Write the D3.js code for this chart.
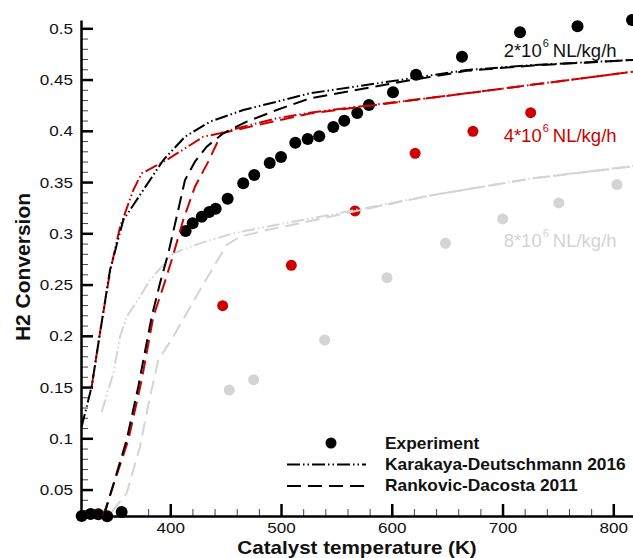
<!DOCTYPE html>
<html>
<head>
<meta charset="utf-8">
<script src="https://cdn.jsdelivr.net/npm/d3@7"></script>
<style>
  body { margin: 0; background: #fff; }
  svg { font-family: "Liberation Sans", Arial, sans-serif; }
</style>
</head>
<body>
<script>
// Experiment data [T (K), H2 conversion]
const exp2e6 = [[320, 0.0242], [328.1, 0.0262], [335, 0.026], [343.1, 0.024], [356.1, 0.028],
  [413.9, 0.3022], [420.2, 0.3098], [428.4, 0.3162], [435.2, 0.3208], [441, 0.324],
  [451.8, 0.3338], [465.9, 0.3488], [475.8, 0.3569], [489.8, 0.3686], [500, 0.3744],
  [512.9, 0.3884], [524.1, 0.392], [534.5, 0.3946], [547.2, 0.4037], [557.1, 0.4099],
  [568.8, 0.4174], [579.4, 0.4252], [601.1, 0.4376], [621.9, 0.4547], [663.4, 0.4723],
  [715.8, 0.4961], [767.7, 0.502], [816.9, 0.508]];
const exp4e6 = [[447.3, 0.2294], [509.3, 0.2688], [566.8, 0.3218], [621.1, 0.378],
  [673.3, 0.3995], [725.4, 0.4177]];
const exp8e6 = [[453.3, 0.1471], [475.3, 0.1572], [539.4, 0.1959], [595.7, 0.2567],
  [648.5, 0.2902], [700.1, 0.314], [750.8, 0.3296], [803.3, 0.3476]];

// Karakaya-Deutschmann 2016 model
const kd2e6 = [[320, 0.1113], [329, 0.1503], [336.5, 0.2024], [345.6, 0.2642], [357.6, 0.313],
  [393.7, 0.3715], [413.3, 0.3942], [435.8, 0.4089], [465.9, 0.4203], [496.1, 0.4284],
  [526.1, 0.4366], [607.4, 0.4496], [667.6, 0.4593], [727.5, 0.4642], [817.8, 0.4691]];
const kd4e6 = [[329, 0.15], [336.5, 0.2027], [345.6, 0.2622], [354.6, 0.3061], [366.6, 0.3422],
  [374.2, 0.3585], [396.8, 0.3715], [429.8, 0.3942], [444.9, 0.3976], [465.9, 0.404],
  [496.1, 0.4122], [526.1, 0.4177], [667.6, 0.4366], [817.8, 0.4577]];
const kd8e6 = [[338.1, 0.1257], [348.6, 0.1634], [354.6, 0.1991], [360.6, 0.2186], [372.6, 0.2381],
  [381.7, 0.2544], [402.7, 0.2805], [426.8, 0.2902], [456.9, 0.3], [487, 0.3064],
  [535.2, 0.3162], [566.8, 0.3227], [637.5, 0.3374], [727.8, 0.3537], [817.8, 0.3657]];

// Rankovic-Dacosta 2011 model
const rd2e6 = [[340.1, 0.0244], [360.6, 0.0983], [371.1, 0.1503], [383.2, 0.2186], [390.7, 0.2512],
  [398.2, 0.2805], [405.8, 0.3162], [413.3, 0.352], [422.3, 0.3699], [432.9, 0.3845],
  [447.9, 0.3976], [469, 0.4089], [496.1, 0.4203], [526.1, 0.4317], [607.4, 0.4476],
  [667.6, 0.4585], [727.5, 0.4638], [817.8, 0.4691]];
const rd4e6 = [[339.5, 0.0244], [362.1, 0.0983], [374.2, 0.1569], [384.7, 0.2186], [393.7, 0.2479],
  [401.3, 0.2739], [411.7, 0.313], [422.3, 0.3455], [434.3, 0.3699], [446.4, 0.3976],
  [469, 0.4032], [526.1, 0.4169], [667.6, 0.4366], [817.8, 0.4577]];
const rd8e6 = [[347.1, 0.0281], [360.6, 0.0463], [372.6, 0.0918], [381.7, 0.1406], [389.2, 0.1764],
  [402.7, 0.1991], [426.8, 0.2447], [450.9, 0.2886], [462.9, 0.2967], [487, 0.3032],
  [517.1, 0.3098], [566.8, 0.3215], [637.5, 0.3374], [727.8, 0.3537], [817.8, 0.3652]];

const xTicks = [400, 500, 600, 700, 800];
const yTicks = [0.05, 0.1, 0.15, 0.2, 0.25, 0.3, 0.35, 0.4, 0.45, 0.5];
const yTickLabels = ['0.05', '0.1', '0.15', '0.2', '0.25', '0.3', '0.35', '0.4', '0.45', '0.5'];

const RED = '#cc0000';
const GRAY = '#d4d4d4';

const svgWidth = 633;
const svgHeight = 558;
const margin = { top: 20, right: 0, bottom: 42, left: 81 };
const width = svgWidth - margin.left - margin.right;
const height = svgHeight - margin.top - margin.bottom;

// the original fonts are a bit wider than Arial, stretch them horizontally
function stretch(sel, f) {
    sel.each(function () {
        const len = this.getComputedTextLength();
        d3.select(this).attr('textLength', len * f).attr('lengthAdjust', 'spacingAndGlyphs');
    });
}

const svg = d3.select('body').append('svg')
    .attr('width', svgWidth)
    .attr('height', svgHeight);

const chart = svg.append('g')
    .attr('transform', `translate(${margin.left},${margin.top})`);

const xScale = d3.scaleLinear().domain([319.4, 817.8]).range([0, width]);
const yScale = d3.scaleLinear().domain([0.0242, 0.5081]).range([height, 0]);

// minor ticks
chart.append('g')
    .attr('transform', `translate(0,${height})`)
    .call(d3.axisBottom(xScale).tickValues(d3.range(340, 820, 20)).tickSize(-7).tickFormat(''))
    .call(g => g.select('.domain').remove())
    .selectAll('line').attr('stroke', '#444').attr('stroke-width', 1);

chart.append('g')
    .call(d3.axisLeft(yScale).tickValues(d3.range(3, 51).map(d => d / 100)).tickSize(-7).tickFormat(''))
    .call(g => g.select('.domain').remove())
    .selectAll('line').attr('stroke', '#444').attr('stroke-width', 1);

// major axes
const xAxis = chart.append('g')
    .attr('transform', `translate(0,${height})`)
    .call(d3.axisBottom(xScale).tickValues(xTicks).tickSize(-12).tickSizeOuter(0).tickPadding(6));

const yAxis = chart.append('g')
    .call(d3.axisLeft(yScale).tickValues(yTicks).tickSize(-12).tickSizeOuter(0).tickPadding(8)
        .tickFormat((d, i) => yTickLabels[i]));

[xAxis, yAxis].forEach(ax => {
    ax.select('.domain').attr('stroke-width', 2.5);
    ax.selectAll('.tick line').attr('stroke-width', 2.5);
    ax.selectAll('.tick text')
        .attr('font-family', '"Liberation Sans", Arial, sans-serif')
        .style('font-size', '15.5px')
        .attr('fill', '#111')
        .call(stretch, 1.1);
});

// model lines
const line = d3.line().x(d => xScale(d[0])).y(d => yScale(d[1]));
const KD_DASH = '13,3,1.5,3,1.5,3';
const RD_DASH = '14,7';

const models = [
    { data: kd8e6, color: GRAY, dash: KD_DASH },
    { data: rd8e6, color: GRAY, dash: RD_DASH },
    { data: kd4e6, color: RED, dash: KD_DASH },
    { data: rd4e6, color: RED, dash: RD_DASH },
    { data: kd2e6, color: 'black', dash: KD_DASH },
    { data: rd2e6, color: 'black', dash: RD_DASH }
];

const experiments = [
    { data: exp8e6, color: GRAY, r: 5.5 },
    { data: exp4e6, color: RED, r: 5.5 },
    { data: exp2e6, color: 'black', r: 6 }
];

experiments.forEach(s => {
    chart.selectAll(null)
        .data(s.data)
        .enter().append('circle')
        .attr('cx', d => xScale(d[0]))
        .attr('cy', d => yScale(d[1]))
        .attr('r', s.r)
        .attr('fill', s.color);
});

models.forEach(m => {
    chart.append('path')
        .datum(m.data)
        .attr('d', line)
        .attr('fill', 'none')
        .attr('stroke', m.color)
        .attr('stroke-width', 2)
        .attr('stroke-dasharray', m.dash);
});

// flow rate labels
const labels = [
    { text: '2*10', y: 0.4722, color: '#111' },
    { text: '4*10', y: 0.3891, color: RED },
    { text: '8*10', y: 0.2863, color: GRAY }
];
labels.forEach(l => {
    const t = chart.append('text')
        .attr('x', xScale(701))
        .attr('y', yScale(l.y))
        .attr('fill', l.color)
        .style('font-size', '18.5px');
    t.append('tspan').text(l.text);
    t.append('tspan').attr('dy', -10).attr('dx', 1).style('font-size', '11px').text('6');
    t.append('tspan').attr('dy', 10).attr('dx', 4).text('NL/kg/h');
});

// legend
const legend = svg.append('g');
legend.append('circle')
    .attr('cx', 331).attr('cy', 443).attr('r', 5.5).attr('fill', 'black');
legend.append('line')
    .attr('x1', 287).attr('x2', 366).attr('y1', 464.5).attr('y2', 464.5)
    .attr('stroke', 'black').attr('stroke-width', 2).attr('stroke-dasharray', KD_DASH);
legend.append('line')
    .attr('x1', 287).attr('x2', 366).attr('y1', 486).attr('y2', 486)
    .attr('stroke', 'black').attr('stroke-width', 2).attr('stroke-dasharray', RD_DASH);
const legendItems = ['Experiment', 'Karakaya-Deutschmann 2016', 'Rankovic-Dacosta 2011'];
legend.selectAll('text')
    .data(legendItems)
    .enter().append('text')
    .attr('x', 385)
    .attr('y', (d, i) => 448.5 + i * 21)
    .style('font-size', '16.2px')
    .style('font-weight', 'bold')
    .attr('fill', '#111')
    .text(d => d)
    .call(stretch, 1.07);

// axis titles
svg.append('text')
    .attr('x', margin.left + width / 2)
    .attr('y', 553.5)
    .attr('text-anchor', 'middle')
    .style('font-size', '19px')
    .style('font-weight', 'bold')
    .attr('fill', '#111')
    .text('Catalyst temperature (K)')
    .call(stretch, 1.085);

svg.append('text')
    .attr('transform', `translate(30,267) rotate(-90)`)
    .attr('text-anchor', 'middle')
    .style('font-size', '21px')
    .style('font-weight', 'bold')
    .attr('fill', '#111')
    .text('H2 Conversion');
</script>
</body>
</html>
